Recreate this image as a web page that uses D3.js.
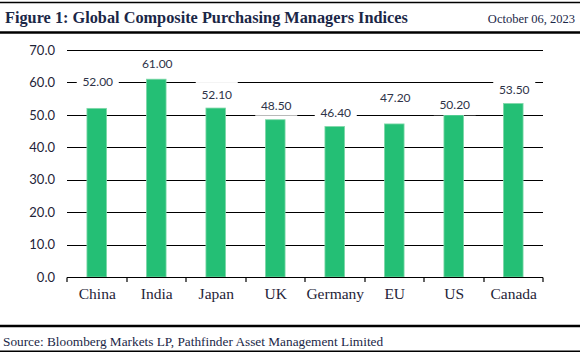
<!DOCTYPE html>
<html>
<head>
<meta charset="utf-8">
<script src="https://cdn.jsdelivr.net/npm/d3@7"></script>
<style>
  html, body { margin: 0; padding: 0; background: #fff; }
  svg { display: block; }
</style>
</head>
<body>
<svg id="chart" width="580" height="352"></svg>
<script>
// ---- data ----
const categories = ["China", "India", "Japan", "UK", "Germany", "EU", "US", "Canada"];
const values = [52.00, 61.00, 52.10, 48.50, 46.40, 47.20, 50.20, 53.50];
const yTicks = [0, 10, 20, 30, 40, 50, 60, 70];
const titleText = "Figure 1: Global Composite Purchasing Managers Indices";
const dateText = "October 06, 2023";
const sourceText = "Source: Bloomberg Markets LP, Pathfinder Asset Management Limited";
// manual label nudges (px above bar top), as placed in the original
const labelNudge = [-27, -15, -13, -14, -13.5, -26, -9, -13.5];

// ---- layout ----
const W = 580, H = 352;
const plot = { left: 67, right: 543, top: 50, bottom: 277 };
const navy = "#1b2747";
const serif = "'Liberation Serif', 'DejaVu Serif', serif";
const sans = "Lato, 'Open Sans', sans-serif";

const svg = d3.select("#chart");

const x = d3.scaleBand().domain(categories)
  .range([plot.left, plot.right]).paddingInner(0.67).paddingOuter(0.335);
const y = d3.scaleLinear().domain([0, 70]).range([plot.bottom, plot.top]);
const crisp = v => Math.round(v) + 0.5;

// header
svg.append("line").attr("x1", 0).attr("x2", W).attr("y1", 2.5).attr("y2", 2.5)
  .attr("stroke", "#000").attr("stroke-width", 1.5);
svg.append("text").attr("x", 5).attr("y", 23)
  .attr("font-family", serif).attr("font-weight", "bold").attr("font-size", 16.3)
  .attr("fill", navy).text(titleText);
svg.append("text").attr("x", 575).attr("y", 23).attr("text-anchor", "end")
  .attr("font-family", serif).attr("font-size", 12.5)
  .attr("fill", navy).text(dateText);
svg.append("line").attr("x1", 0).attr("x2", W).attr("y1", 32.5).attr("y2", 32.5)
  .attr("stroke", "#000").attr("stroke-width", 2.5);

// gridlines
svg.append("g").selectAll("line").data(yTicks.filter(d => d > 0)).join("line")
  .attr("x1", plot.left).attr("x2", plot.right)
  .attr("y1", d => crisp(y(d))).attr("y2", d => crisp(y(d)))
  .attr("stroke", "#000").attr("stroke-width", 1);

// y axis labels
const yAxis = d3.axisLeft(y).tickValues(yTicks).tickFormat(d3.format(".1f"))
  .tickSize(0).tickPadding(12);
const gy = svg.append("g").attr("transform", `translate(${plot.left},0)`).call(yAxis);
gy.select(".domain").remove();
gy.selectAll("text").attr("font-family", sans).attr("font-size", 13).attr("fill", "#1f2438");

// bars
svg.append("g").selectAll("rect").data(values).join("rect")
  .attr("x", (d, i) => x(categories[i]))
  .attr("width", x.bandwidth())
  .attr("y", d => y(d))
  .attr("height", d => y(0) - y(d))
  .attr("fill", "#24bf75")
  .attr("stroke", "#7fd8a9").attr("stroke-width", 0.8);

// x axis line and boundary ticks
const ax = svg.append("g");
const axisY = crisp(y(0));
ax.append("line").attr("x1", plot.left).attr("x2", plot.right)
  .attr("y1", axisY).attr("y2", axisY).attr("stroke", "#000").attr("stroke-width", 1.2);
ax.selectAll("line.tick").data(d3.range(categories.length + 1)).join("line")
  .attr("class", "tick")
  .attr("x1", i => crisp(plot.left + i * x.step()) - 0.5)
  .attr("x2", i => crisp(plot.left + i * x.step()) - 0.5)
  .attr("y1", axisY).attr("y2", axisY + 4.5)
  .attr("stroke", "#000").attr("stroke-width", 1.2);
ax.selectAll("text").data(categories).join("text")
  .attr("x", d => x(d) + x.bandwidth() / 2 + 0.5)
  .attr("y", 299).attr("text-anchor", "middle")
  .attr("font-family", serif).attr("font-size", 15.5).attr("fill", "#1f2438")
  .text(d => d);

// value labels with white boxes
const lg = svg.append("g");
values.forEach((v, i) => {
  const cx = x(categories[i]) + x.bandwidth() / 2 + 1;
  const cy = y(v) + labelNudge[i];
  lg.append("rect").attr("x", cx - 21).attr("y", cy - 13).attr("width", 42).attr("height", 23)
    .attr("fill", "#fff");
  lg.append("text").attr("x", cx).attr("y", cy).attr("dy", "0.35em")
    .attr("text-anchor", "middle").attr("font-family", sans).attr("font-size", 12)
    .attr("fill", "#2e3348").text(d3.format(".2f")(v));
});

// footer
svg.append("line").attr("x1", 0).attr("x2", W).attr("y1", 326).attr("y2", 326)
  .attr("stroke", "#000").attr("stroke-width", 2.5);
svg.append("text").attr("x", 3).attr("y", 346)
  .attr("font-family", serif).attr("font-size", 13.3)
  .attr("fill", navy).text(sourceText);
svg.append("line").attr("x1", 0).attr("x2", W).attr("y1", 351.3).attr("y2", 351.3)
  .attr("stroke", "#000").attr("stroke-width", 1.5);
</script>
</body>
</html>
